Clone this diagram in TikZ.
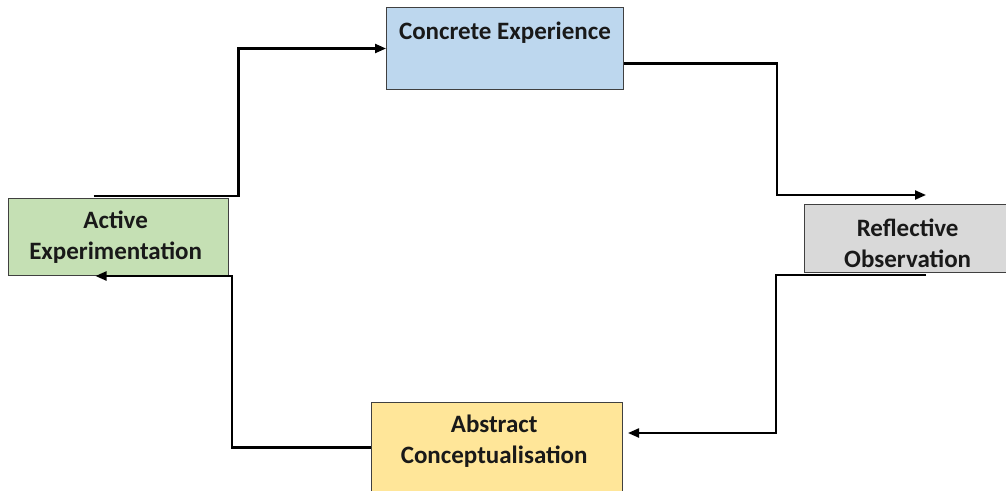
\documentclass[tikz,border=0pt]{standalone}
\usepackage{fontspec}
\setmainfont{Carlito}
\usetikzlibrary{arrows.meta}
\definecolor{ceblue}{HTML}{BDD7EE}
\definecolor{rogray}{HTML}{D9D9D9}
\definecolor{acyellow}{HTML}{FFE699}
\definecolor{aegreen}{HTML}{C5E0B4}
\begin{document}
\begin{tikzpicture}[x=1pt, y=-1pt,
    stage/.style={draw=black!75, line width=1pt, inner sep=0pt, anchor=north west, align=center, text=black!90, font=\fontsize{25}{31}\selectfont\bfseries},
    cyc/.style={line width=2.2pt, -{Triangle[length=11pt, width=9pt]}}]
    \useasboundingbox (0,0) rectangle (1006,490);

    % The four stages of the cycle
    \node[stage, fill=ceblue, minimum width=237pt, text height=32pt, text depth=50pt] (ce) at (386,7) {Concrete Experience};

    \node[stage, fill=rogray, minimum width=212pt, text height=47.25pt, text depth=20.75pt] (ro) at (804,204) {
        \begin{tabular}{c}
        Reflective\\
        Observation
        \end{tabular}
    };

    \node[stage, fill=acyellow, minimum width=251pt, text height=45.75pt, text depth=57.25pt] (ac) at (371,402) {
        \begin{tabular}{c}
        Abstract\\
        Conceptualisation
        \end{tabular}
    };

    \node[stage, fill=aegreen, minimum width=220pt, text height=45.25pt, text depth=31.75pt] (ae) at (8,198) {
        \begin{tabular}{c}
        Active\\
        Experimentation
        \end{tabular}
    };

    % Arrows round the cycle
    \draw[cyc] ([xshift=-25pt, yshift=2pt]ae.north) -- +(145,0) |- (ce.west);
    \draw[cyc] ([yshift=-15pt]ce.east) -- +(153,0) |- ([xshift=122pt, yshift=9pt]ro.north west);
    \draw[cyc] ([xshift=122pt, yshift=-2pt]ro.south west) -- +(-150,0) |- ([xshift=5pt, yshift=-31pt]ac.north east);
    \draw[cyc] ([yshift=6.5pt]ac.west) -- +(-139,0) |- ([xshift=-23pt]ae.south);
\end{tikzpicture}
\end{document}
